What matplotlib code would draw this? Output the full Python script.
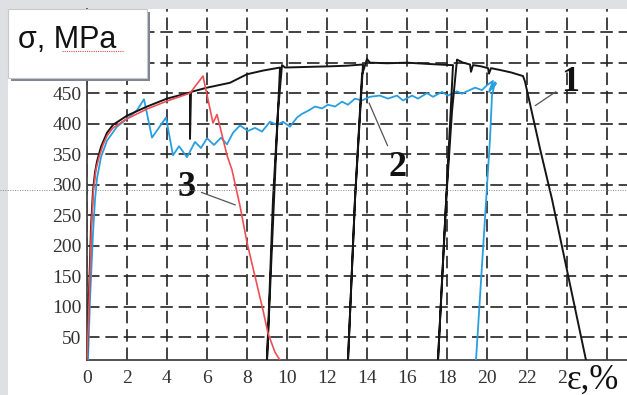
import numpy as np
import matplotlib
matplotlib.use("Agg")
import matplotlib.pyplot as plt
from matplotlib.patches import Rectangle
from matplotlib.lines import Line2D

# curve 1 (black): loading with three unload/reload cycles, then fracture
black_x = [0.0, 0.1, 0.2, 0.3, 0.4, 0.5, 0.7, 1.0, 1.3, 2.0, 3.0, 4.0, 5.15, 5.15, 5.2,
           6.0, 7.15, 8.0, 8.8, 9.65, 9.45, 9.0, 9.3, 9.55, 9.75, 9.9, 11.0, 12.15, 13.0, 13.8,
           13.4, 13.05, 13.4, 13.75, 14.0, 14.15, 15.0, 16.0, 17.0, 18.15, 18.3,
           17.96, 17.55, 17.96, 18.25, 18.5, 18.8, 19.15, 19.2, 19.3, 19.7, 20.05, 20.1, 20.2,
           20.65, 21.2, 21.8, 21.9, 22.65, 23.25, 24.95]
black_y = [12, 120, 230, 290, 320, 338, 362, 385, 398, 413, 428, 441, 451, 375, 452,
           459, 467, 481, 487, 492, 350, 12, 276, 420, 496, 492, 493, 494, 495, 497,
           276, 12, 276, 480, 506, 500, 499, 500, 498, 496, 496,
           276, 12, 276, 420, 505, 500, 497, 485, 496, 494, 491, 482, 491,
           488, 484, 478, 469, 359, 276, 12]

# curve 2 (blue)
blue_x = [0.05, 0.15, 0.3, 0.4, 0.5, 0.7, 1.0, 1.5, 2.0, 2.5, 2.85, 3.25, 3.95, 4.3, 4.6,
          5.0, 5.4, 5.7, 6.0, 6.35, 6.7, 7.0, 7.3, 7.65, 8.05, 8.4, 8.75, 9.15, 9.5, 9.8,
          10.15, 10.5, 10.75, 11.05, 11.4, 11.75, 12.05, 12.4, 12.75, 13.05, 13.4, 13.75,
          14.15, 14.65, 15.05, 15.5, 15.8, 16.25, 16.55, 17.0, 17.3, 17.75, 18.05, 18.5,
          18.75, 19.0, 19.4, 19.75, 20.0, 20.3, 20.1, 20.45, 20.2, 20.4, 20.25, 20.15, 19.45]
blue_y = [12, 110, 220, 275, 310, 345, 372, 395, 408, 422, 440, 377, 410, 348, 363,
          345, 370, 360, 376, 365, 377, 366, 385, 397, 388, 393, 387, 403, 398, 403,
          395, 410, 416, 421, 428, 425, 431, 428, 436, 431, 441, 438,
          444, 446, 441, 446, 438, 446, 441, 450, 444, 452, 446, 453,
          449, 453, 459, 455, 463, 470, 452, 466, 458, 468, 446, 375, 12]

# curve 3 (red)
red_x = [0.0, 0.12, 0.22, 0.32, 0.45, 0.6, 0.8, 1.0, 1.3, 2.0, 3.0, 4.0, 5.15, 5.8,
         6.3, 6.5, 7.0, 7.25, 7.65, 8.0, 8.8, 9.05, 9.4, 9.65]
red_y = [12, 120, 230, 290, 325, 345, 365, 380, 393, 408, 424, 437, 450, 478,
         401, 415, 348, 324, 265, 205, 94, 56, 25, 12]

x_ticks = list(range(0, 27, 2))
x_labels = [str(v) for v in range(0, 25, 2)] + [""]
y_ticks = list(range(50, 551, 50))
y_labels = [str(v) for v in range(50, 451, 50)] + ["", ""]  # 500, 550 sit under the box

W, H = 627, 395
fig = plt.figure(figsize=(6.27, 3.95), dpi=100, facecolor="#dfe0e3")
fig.patches.append(Rectangle((8 / W, 0), 1, 386 / H, transform=fig.transFigure,
                             facecolor="white", edgecolor="none", zorder=-1))

ax = fig.add_axes([87 / W, 35 / H, 540 / W, 351 / H])
ax.set_xlim(0, 27)
ax.set_ylim(12.3, 588)

ax.plot(blue_x, blue_y, color="#2a9fe0", lw=1.3, zorder=3)
ax.plot(black_x, black_y, color="#151515", lw=1.4, zorder=4)
ax.plot(red_x, red_y, color="#ee4f55", lw=1.2, zorder=5)

ax.set_xticks(x_ticks)
ax.set_xticklabels(x_labels)
ax.set_yticks(y_ticks)
ax.set_yticklabels(y_labels)
ax.grid(True, color="#222222", linestyle=(0, (7.5, 3.5)), lw=1.2)
ax.set_axisbelow(True)
for s in ["top", "right"]:
    ax.spines[s].set_visible(False)
for s in ["left", "bottom"]:
    ax.spines[s].set_color("#444444")
    ax.spines[s].set_linewidth(1.3)
ax.tick_params(length=0, labelsize=14, labelcolor="#333333")
ax.tick_params(axis="x", pad=7)
ax.tick_params(axis="y", pad=4)
for lab in ax.get_xticklabels() + ax.get_yticklabels():
    lab.set_fontfamily("Liberation Serif")

# curve labels with leader lines
lab_kw = dict(fontsize=26, fontweight="bold", family="Liberation Serif",
              ha="center", va="center", color="#111111")
arrow_kw = dict(arrowstyle="-", color="#555555", lw=0.9)
ax.annotate("1", xy=(22.3, 427), xytext=(24.15, 468), arrowprops=arrow_kw, **lab_kw)
ax.annotate("2", xy=(14.05, 438), xytext=(15.5, 328), arrowprops=arrow_kw, **lab_kw)
ax.annotate("3", xy=(7.55, 265), xytext=(5.0, 296), arrowprops=arrow_kw, **lab_kw)

# thin dotted line across the figure at 300 MPa
fig.lines.append(Line2D([0, 1], [(H - 190) / H] * 2, transform=fig.transFigure,
                        color="#888888", lw=0.7, linestyle=(0, (1, 1.5)), zorder=6))

# sigma, MPa box with shadow
fig.patches.append(Rectangle((11 / W, (H - 81) / H), 139 / W, 69 / H, transform=fig.transFigure,
                             facecolor="#7f8594", edgecolor="none", zorder=7))
fig.patches.append(Rectangle((8 / W, (H - 78) / H), 139 / W, 69 / H, transform=fig.transFigure,
                             facecolor="white", edgecolor="#c8c8c8", lw=0.8, zorder=8))
fig.text(18 / W, (H - 48) / H, "σ, MPa", family="Liberation Sans", fontsize=22,
         ha="left", va="baseline", color="#111111", zorder=9)
fig.lines.append(Line2D([62 / W, 124 / W], [(H - 51) / H] * 2, transform=fig.transFigure,
                        color="#e05050", lw=0.8, linestyle=(0, (1, 1)), zorder=9))

# axis label epsilon, % (covers the "4" of the 24 tick as in the original)
fig.text(567 / W, (H - 389) / H, "ε,%", family="Liberation Serif", fontsize=25,
         ha="left", va="baseline", color="#111111", zorder=9,
         bbox=dict(facecolor="white", edgecolor="none", pad=0.2))

fig.savefig("out.png", dpi=100, facecolor=fig.get_facecolor())
